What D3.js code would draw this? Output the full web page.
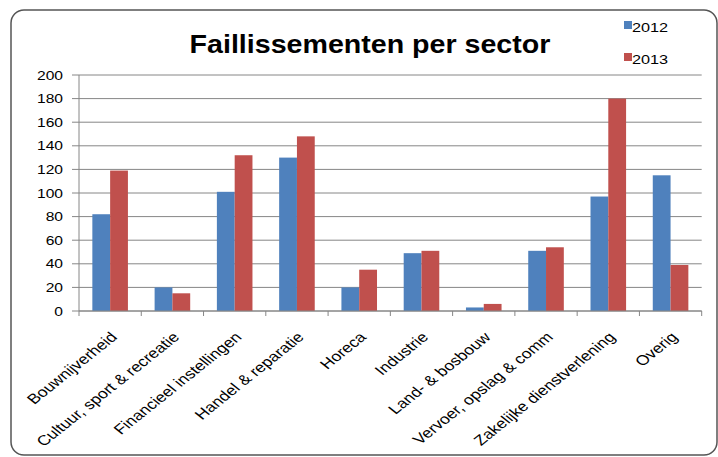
<!DOCTYPE html>
<html>
<head>
<meta charset="utf-8">
<script src="https://cdn.jsdelivr.net/npm/d3@7"></script>
<style>
  body { margin: 0; background: #fff; }
  text { font-family: Arial, "Liberation Sans", sans-serif; fill: #000; }
</style>
</head>
<body>
<div id="chart"></div>
<script>
// data
const sectors = [
  "Bouwnijverheid", "Cultuur, sport & recreatie", "Financieel instellingen",
  "Handel & reparatie", "Horeca", "Industrie", "Land- & bosbouw",
  "Vervoer, opslag & comm", "Zakelijke dienstverlening", "Overig"
];
const years = ["2012", "2013"];
const values2012 = [82, 20, 101, 130, 20, 49, 3, 51, 97, 115];
const values2013 = [119, 15, 132, 148, 35, 51, 6, 54, 180, 39];
const yTicks = [0, 20, 40, 60, 80, 100, 120, 140, 160, 180, 200];

const colors = { "2012": "#4F81BD", "2013": "#C0504D" };
const stretch = 1.25; // the source image is widened a bit

const width = 718, height = 457;
const margin = { top: 75, right: 16, bottom: 146, left: 79 };

const svg = d3.select("#chart").append("svg")
  .attr("width", width)
  .attr("height", height);

// rounded frame
svg.append("rect")
  .attr("x", 11).attr("y", 10)
  .attr("width", 706).attr("height", 445)
  .attr("rx", 13)
  .attr("fill", "none")
  .attr("stroke", "#555")
  .attr("stroke-width", 1.5);

const rows = sectors.map((s, i) => ({ sector: s, "2012": values2012[i], "2013": values2013[i] }));

const x = d3.scaleBand()
  .domain(sectors)
  .range([margin.left, width - margin.right - 0.3])
  .paddingInner(0)
  .paddingOuter(0);

// Excel-like gap width of 150%
const inner = d3.scaleBand()
  .domain(years)
  .range([0, x.bandwidth()])
  .paddingInner(0)
  .paddingOuter(0.75);

const y = d3.scaleLinear()
  .domain([0, 200])
  .range([height - margin.bottom, margin.top]);

// gridlines
svg.append("g")
  .selectAll("line")
  .data(yTicks)
  .join("line")
  .attr("x1", margin.left - 7)
  .attr("x2", x.range()[1])
  .attr("y1", d => y(d))
  .attr("y2", d => y(d))
  .attr("stroke", "#868686")
  .attr("stroke-width", 1);

// y axis line
svg.append("line")
  .attr("x1", margin.left).attr("x2", margin.left)
  .attr("y1", y(200)).attr("y2", y(0))
  .attr("stroke", "#868686");

// y labels
svg.append("g")
  .selectAll("text")
  .data(yTicks)
  .join("text")
  .attr("transform", d => `translate(63,${y(d)}) scale(${stretch},1)`)
  .attr("dy", "0.36em")
  .attr("text-anchor", "end")
  .attr("font-size", 12.5)
  .text(d => d);

// bars
const groups = svg.append("g")
  .selectAll("g")
  .data(rows)
  .join("g")
  .attr("transform", d => `translate(${x(d.sector)},0)`);

groups.selectAll("rect")
  .data(d => years.map(k => ({ key: k, value: d[k] })))
  .join("rect")
  .attr("x", d => inner(d.key))
  .attr("width", inner.bandwidth())
  .attr("y", d => y(d.value))
  .attr("height", d => y(0) - y(d.value))
  .attr("fill", d => colors[d.key]);

// x axis line + ticks
svg.append("line")
  .attr("x1", margin.left).attr("x2", x.range()[1])
  .attr("y1", y(0)).attr("y2", y(0))
  .attr("stroke", "#868686");

const boundaries = sectors.map(s => x(s)).concat([x.range()[1]]);
svg.append("g")
  .selectAll("line")
  .data(boundaries)
  .join("line")
  .attr("x1", d => d).attr("x2", d => d)
  .attr("y1", y(0)).attr("y2", y(0) + 5)
  .attr("stroke", "#868686");

// x labels, rotated
svg.append("g")
  .selectAll("text")
  .data(sectors)
  .join("text")
  .attr("transform", d => `translate(${x(d) + x.bandwidth() / 2 + 8},338) scale(${stretch},1) rotate(-45)`)
  .attr("text-anchor", "end")
  .attr("font-size", 14)
  .text(d => d);

// title
svg.append("text")
  .attr("transform", `translate(370,53) scale(1.1,1)`)
  .attr("text-anchor", "middle")
  .attr("font-size", 26)
  .attr("font-weight", "bold")
  .text("Faillissementen per sector");

// legend
const legend = svg.append("g")
  .selectAll("g")
  .data(years)
  .join("g")
  .attr("transform", (d, i) => `translate(624,${21 + i * 32})`);

legend.append("rect")
  .attr("width", 8).attr("height", 8)
  .attr("fill", d => colors[d]);

legend.append("text")
  .attr("transform", `translate(8,11) scale(${stretch},1)`)
  .attr("font-size", 13)
  .text(d => d);
</script>
</body>
</html>
